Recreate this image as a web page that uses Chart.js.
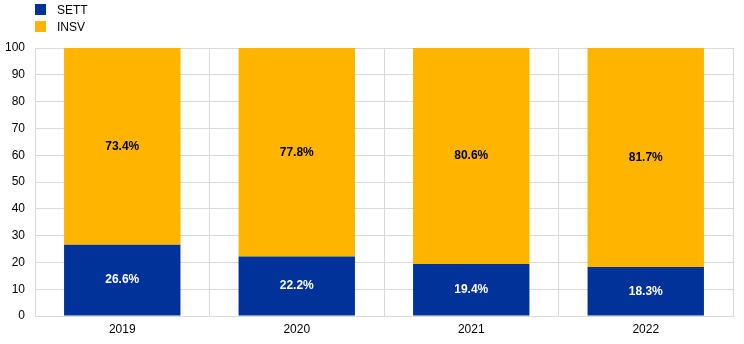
<!DOCTYPE html>
<html>
<head>
<meta charset="utf-8">
<script src="https://cdn.jsdelivr.net/npm/chart.js@4/dist/chart.umd.min.js"></script>
<style>
  html, body { margin: 0; padding: 0; background: #fff; }
  #wrap { position: relative; width: 744px; height: 344px; }
  #legend { position: absolute; left: 35px; top: 1px; font-family: "Liberation Sans", Arial, sans-serif; font-size: 12px; color: #000; z-index: 2; }
  .item { display: flex; align-items: center; height: 17px; }
  .sw { width: 11px; height: 11px; margin-right: 11px; }
  #c { position: absolute; left: 0; top: 0; }
</style>
</head>
<body>
<div id="wrap">
  <div id="legend"></div>
  <canvas id="c" width="744" height="344"></canvas>
</div>
<script>
const categories = ['2019', '2020', '2021', '2022'];
const settValues = [26.6, 22.2, 19.4, 18.3];
const insvValues = [73.4, 77.8, 80.6, 81.7];
const seriesNames = ['SETT', 'INSV'];
const seriesColors = ['#003299', '#FFB400'];

// legend drawn as plain HTML above the plot
const legendEl = document.getElementById('legend');
seriesNames.forEach((name, i) => {
  const row = document.createElement('div');
  row.className = 'item';
  const sw = document.createElement('span');
  sw.className = 'sw';
  sw.style.background = seriesColors[i];
  const tx = document.createElement('span');
  tx.textContent = name;
  row.appendChild(sw);
  row.appendChild(tx);
  legendEl.appendChild(row);
});

// writes each segment's value in its middle
const barLabels = {
  id: 'barLabels',
  afterDatasetsDraw(chart) {
    const ctx = chart.ctx;
    ctx.save();
    ctx.font = 'bold 12px "Liberation Sans", Arial, sans-serif';
    ctx.textAlign = 'center';
    ctx.textBaseline = 'middle';
    chart.data.datasets.forEach((ds, di) => {
      const meta = chart.getDatasetMeta(di);
      meta.data.forEach((bar, i) => {
        const v = ds.data[i];
        const mid = (bar.y + bar.base) / 2;
        ctx.fillStyle = di === 0 ? '#ffffff' : '#000000';
        ctx.fillText(v.toFixed(1) + '%', bar.x, mid);
      });
    });
    ctx.restore();
  }
};

Chart.defaults.font.family = '"Liberation Sans", Arial, sans-serif';
Chart.defaults.font.size = 12;
Chart.defaults.color = '#000';

new Chart(document.getElementById('c'), {
  type: 'bar',
  data: {
    labels: categories,
    datasets: [
      { label: seriesNames[0], data: settValues, backgroundColor: seriesColors[0], categoryPercentage: 0.667, barPercentage: 1.0 },
      { label: seriesNames[1], data: insvValues, backgroundColor: seriesColors[1], categoryPercentage: 0.667, barPercentage: 1.0 }
    ]
  },
  options: {
    responsive: false,
    animation: false,
    layout: { padding: { top: 48, right: 11, left: 0, bottom: 0 } },
    plugins: { legend: { display: false }, tooltip: { enabled: false } },
    scales: {
      x: {
        stacked: true,
        grid: { color: '#d9d9d9', offset: true, drawTicks: false },
        border: { color: '#d9d9d9' },
        ticks: { padding: 6 },
        afterFit(scale) { scale.height = 28; }
      },
      y: {
        stacked: true,
        min: 0, max: 100,
        ticks: { stepSize: 10, padding: 10 },
        grid: { color: '#d9d9d9', drawTicks: false },
        border: { display: false },
        afterFit(scale) { scale.width = 35; }
      }
    }
  },
  plugins: [barLabels]
});
</script>
</body>
</html>
